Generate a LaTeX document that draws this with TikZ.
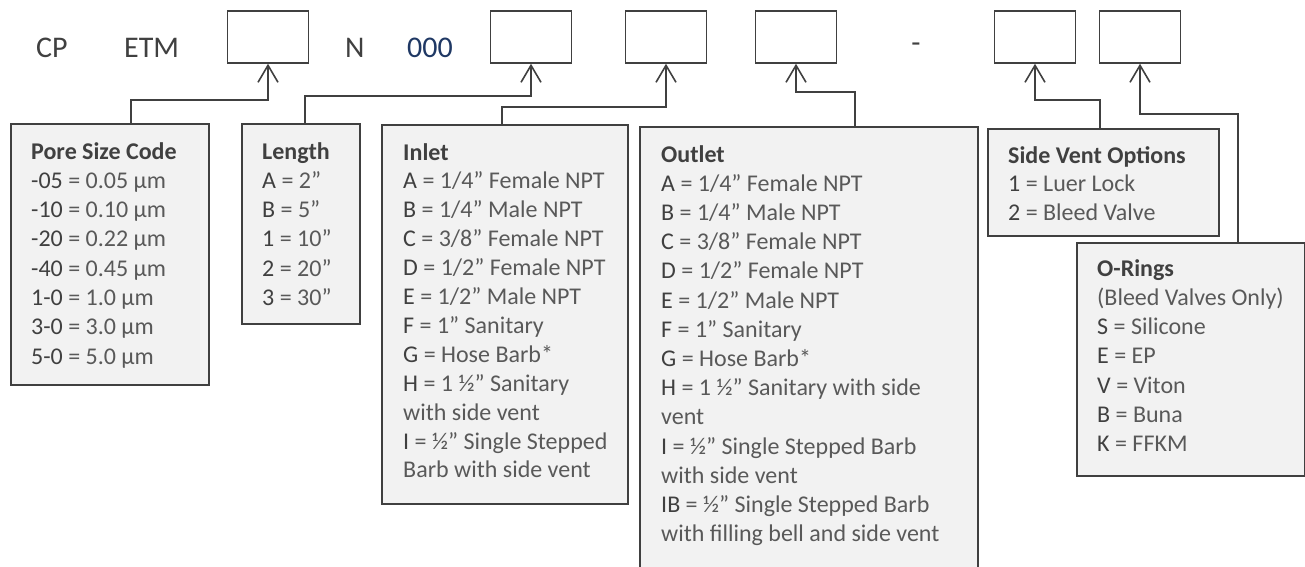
\documentclass[tikz,border=0pt]{standalone}
\usepackage{fontspec}
\setmainfont{Carlito}
\usepackage{tikz}
\usetikzlibrary{arrows.meta, positioning}
\definecolor{codegray}{RGB}{64,64,64}
\definecolor{textgray}{RGB}{89,89,89}
\definecolor{boxfill}{RGB}{242,242,242}
\definecolor{codeblue}{RGB}{31,56,100}
\newcommand{\cd}[1]{\textcolor{codegray}{#1}}

\begin{document}
\begin{tikzpicture}[x=1pt, y=-1pt,
    slot/.style={draw=codegray, line width=1.5pt, minimum width=81pt, minimum height=52pt, inner sep=0pt},
    card/.style={draw=codegray, line width=1.5pt, fill=boxfill, anchor=north west, inner sep=0pt},
    toptext/.style={anchor=base west, font=\fontsize{30}{36}\selectfont, text=codegray, inner sep=0pt},
    cardhead/.style={anchor=base west, font=\fontsize{24}{29}\selectfont\bfseries, text=codegray, inner sep=0pt},
    cardline/.style={anchor=base west, font=\fontsize{24}{29}\selectfont, text=textgray, inner sep=0pt},
    link/.style={draw=codegray, line width=1.6pt, -{Straight Barb[length=17pt,width=20pt]}}]
    \useasboundingbox (0,0) rectangle (1305,566);

    % Part number
    \node[toptext] (cp) at (36,57) {CP};
    \node[toptext] (etm) at (124,57) {ETM};
    \node[slot] (b1) at (268,37) {};
    \node[toptext] (n) at (345,57) {N};
    \node[toptext, text=codeblue] (zeros) at (407,57) {000};
    \node[slot] (b2) at (531,37) {};
    \node[slot] (b3) at (666,37) {};
    \node[slot] (b4) at (796,37) {};
    \node[toptext, anchor=base] (dash) at (916,52) {-};
    \node[slot] (b5) at (1035,37) {};
    \node[slot] (b6) at (1140,37) {};

    % Option cards
    \node[card, minimum width=198pt, minimum height=261pt] (pore) at (10,123) {};
    \node[card, minimum width=118pt, minimum height=200pt] (length) at (241,123) {};
    \node[card, minimum width=246pt, minimum height=379pt] (inlet) at (381,124) {};
    \node[card, minimum width=338pt, minimum height=460pt] (outlet) at (639,126) {};
    \node[card, minimum width=231pt, minimum height=107pt] (vent) at (987,128) {};
    \node[card, minimum width=228pt, minimum height=233pt] (orings) at (1076,242) {};

    \node[cardhead] (porehead) at (31,159) {Pore Size Code};
    \foreach \t [count=\i] in {{\cd{-05} = 0.05 µm}, {\cd{-10} = 0.10 µm}, {\cd{-20} = 0.22 µm},
        {\cd{-40} = 0.45 µm}, {\cd{1-0} = 1.0 µm}, {\cd{3-0} = 3.0 µm}, {\cd{5-0} = 5.0 µm}}
        \node[cardline] (pore-\i) at (31,{159+\i*29.3}) {\t};

    \node[cardhead] (lengthhead) at (262,159) {Length};
    \foreach \t [count=\i] in {{\cd{A} = 2”}, {\cd{B} = 5”}, {\cd{1} = 10”}, {\cd{2} = 20”}, {\cd{3} = 30”}}
        \node[cardline] (length-\i) at (262,{159+\i*29.3}) {\t};

    \node[cardhead] (inlethead) at (403,160) {Inlet};
    \foreach \t [count=\i] in {{\cd{A} = 1/4” Female NPT}, {\cd{B} = 1/4” Male NPT},
        {\cd{C} = 3/8” Female NPT}, {\cd{D} = 1/2” Female NPT}, {\cd{E} = 1/2” Male NPT},
        {\cd{F} = 1” Sanitary}, {\cd{G} = Hose Barb*}, {\cd{H} = 1 ½” Sanitary},
        {with side vent}, {\cd{I} = ½” Single Stepped}, {Barb with side vent}}
        \node[cardline] (inlet-\i) at (403,{160+\i*28.9}) {\t};

    \node[cardhead] (outlethead) at (661,162) {Outlet};
    \foreach \t [count=\i] in {{\cd{A} = 1/4” Female NPT}, {\cd{B} = 1/4” Male NPT},
        {\cd{C} = 3/8” Female NPT}, {\cd{D} = 1/2” Female NPT}, {\cd{E} = 1/2” Male NPT},
        {\cd{F} = 1” Sanitary}, {\cd{G} = Hose Barb*}, {\cd{H} = 1 ½” Sanitary with side},
        {vent}, {\cd{I} = ½” Single Stepped Barb}, {with side vent},
        {\cd{IB} = ½” Single Stepped Barb}, {with filling bell and side vent}}
        \node[cardline] (outlet-\i) at (661,{162+\i*29.2}) {\t};

    \node[cardhead] (venthead) at (1008,163) {Side Vent Options};
    \foreach \t [count=\i] in {{\cd{1} = Luer Lock}, {\cd{2} = Bleed Valve}}
        \node[cardline] (vent-\i) at (1008,{163+\i*28.8}) {\t};

    \node[cardhead] (ringshead) at (1097,276) {O-Rings};
    \foreach \t [count=\i] in {{(Bleed Valves Only)}, {\cd{S} = Silicone}, {\cd{E} = EP},
        {\cd{V} = Viton}, {\cd{B} = Buna}, {\cd{K} = FFKM}}
        \node[cardline] (rings-\i) at (1097,{276+\i*29.3}) {\t};

    % Connectors
    \coordinate (k1) at (131,100);
    \coordinate (k2) at (305,96);
    \coordinate (k3) at (502,107);
    \coordinate (k4) at (855,92);
    \coordinate (k5) at (1100,100);
    \coordinate (k6) at (1238,114);
    \draw[link] (k1 |- pore.north) -- (k1) -| (b1.south);
    \draw[link] (k2 |- length.north) -- (k2) -| (b2.south);
    \draw[link] (k3 |- inlet.north) -- (k3) -| (b3.south);
    \draw[link] (k4 |- outlet.north) -- (k4) -| (b4.south);
    \draw[link] (k5 |- vent.north) -- (k5) -| (b5.south);
    \draw[link] (k6 |- orings.north) -- (k6) -| (b6.south);
\end{tikzpicture}
\end{document}
